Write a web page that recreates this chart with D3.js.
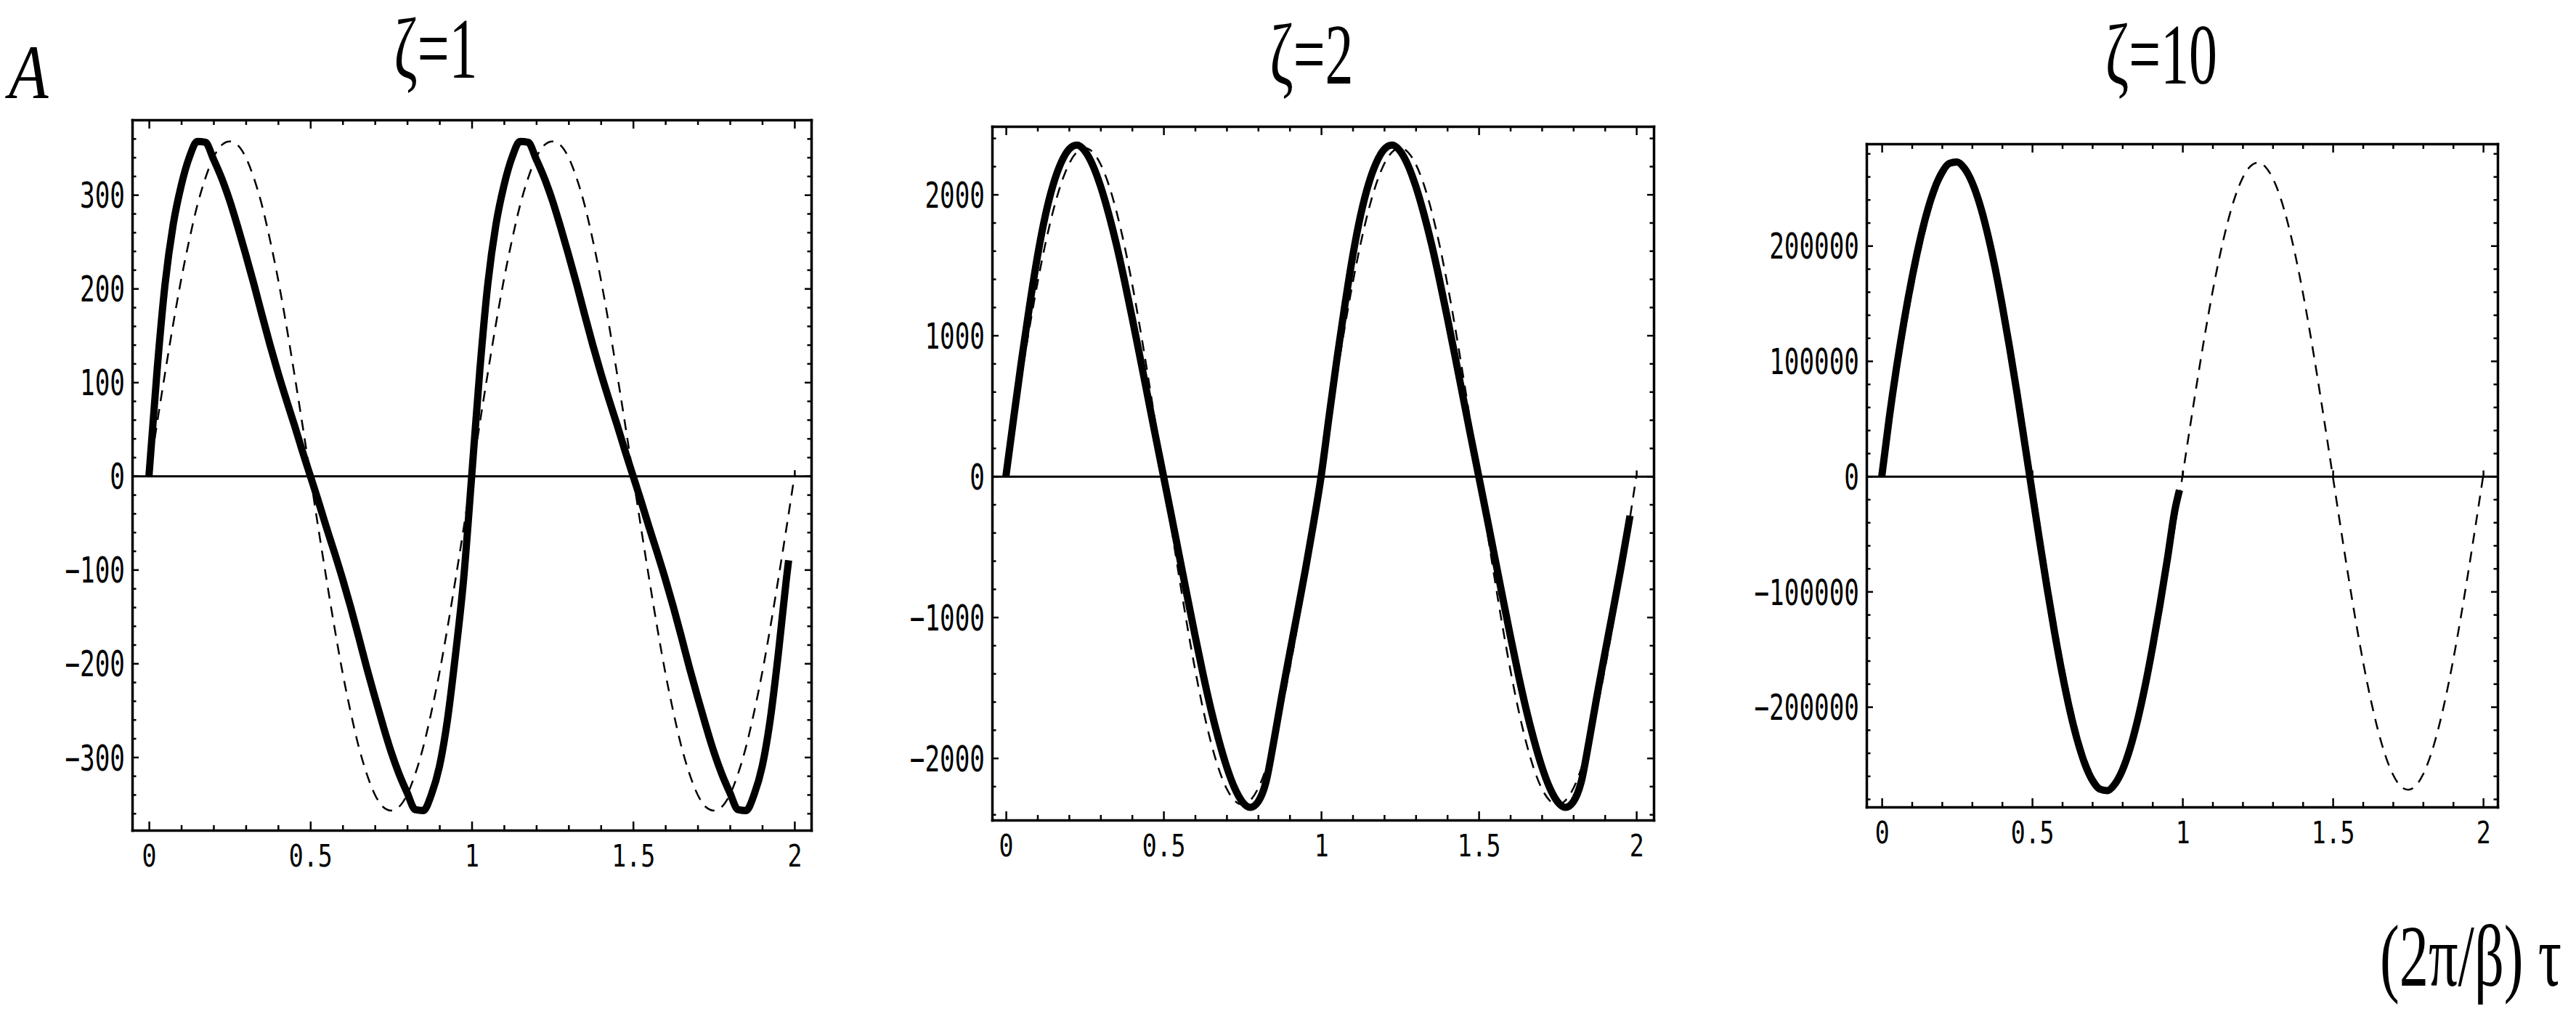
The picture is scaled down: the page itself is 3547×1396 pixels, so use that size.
<!DOCTYPE html>
<html>
<head>
<meta charset="utf-8">
<script src="https://d3js.org/d3.v7.min.js"></script>
<style>
  body { margin: 0; background: #fff; }
  svg { display: block; background: #fff; }
</style>
</head>
<body>
<script>
'use strict';

(function () {

  // sample points along (2π/β) τ
  const tau = [0, 0.025, 0.05, 0.075, 0.1, 0.125, 0.15, 0.175, 0.2, 0.225,
    0.25, 0.275, 0.3, 0.325, 0.35, 0.375, 0.4, 0.425, 0.45, 0.475,
    0.5, 0.525, 0.55, 0.575, 0.6, 0.625, 0.65, 0.675, 0.7, 0.725,
    0.75, 0.775, 0.8, 0.825, 0.85, 0.875, 0.9, 0.925, 0.95, 0.975,
    1, 1.025, 1.05, 1.075, 1.1, 1.125, 1.15, 1.175, 1.2, 1.225,
    1.25, 1.275, 1.3, 1.325, 1.35, 1.375, 1.4, 1.425, 1.45, 1.475,
    1.5, 1.525, 1.55, 1.575, 1.6, 1.625, 1.65, 1.675, 1.7, 1.725,
    1.75, 1.775, 1.8, 1.825, 1.85, 1.875, 1.9, 1.925, 1.95, 1.975, 2];

  // zeta = 1 : thick curve and dashed curve
  const solid1 = [0, 112, 205, 268, 310, 340, 357, 356, 338, 318,
    294, 266, 236, 205, 172, 140, 110, 82, 55, 27,
    0, -27, -55, -82, -110, -140, -172, -205, -236, -266,
    -294, -318, -338, -356, -357, -340, -310, -260, -190, -110,
    0, 112, 205, 268, 310, 340, 357, 356, 338, 318,
    294, 266, 236, 205, 172, 140, 110, 82, 55, 27,
    0, -27, -55, -82, -110, -140, -172, -205, -236, -266,
    -294, -318, -338, -356, -357, -340, -310, -260, -190, -110];
  const dashed1 = [0, 56, 110, 162, 210, 252, 289, 318, 340, 353,
    357, 353, 340, 318, 289, 252, 210, 162, 110, 56,
    0, -56, -110, -162, -210, -252, -289, -318, -340, -353,
    -357, -353, -340, -318, -289, -252, -210, -162, -110, -56,
    0, 56, 110, 162, 210, 252, 289, 318, 340, 353,
    357, 353, 340, 318, 289, 252, 210, 162, 110, 56,
    0, -56, -110, -162, -210, -252, -289, -318, -340, -353,
    -357, -353, -340, -318, -289, -252, -210, -162, -110, -56, 0];

  // zeta = 2
  const solid2 = [0, 420, 830, 1210, 1560, 1850, 2070, 2225, 2320, 2350,
    2310, 2210, 2060, 1870, 1650, 1400, 1130, 850, 565, 280,
    0, -280, -565, -850, -1130, -1400, -1650, -1870, -2060, -2210,
    -2310, -2350, -2310, -2170, -1880, -1560, -1260, -965, -665, -345,
    0, 420, 830, 1210, 1560, 1850, 2070, 2225, 2320, 2350,
    2310, 2210, 2060, 1870, 1650, 1400, 1130, 850, 565, 280,
    0, -280, -565, -850, -1130, -1400, -1650, -1870, -2060, -2210,
    -2310, -2350, -2310, -2170, -1880, -1560, -1260, -965, -665, -345];
  const dashed2 = [0, 364, 720, 1058, 1370, 1648, 1885, 2076, 2216, 2301,
    2330, 2301, 2216, 2076, 1885, 1648, 1370, 1058, 720, 364,
    0, -364, -720, -1058, -1370, -1648, -1885, -2076, -2216, -2301,
    -2330, -2301, -2216, -2076, -1885, -1648, -1370, -1058, -720, -364,
    0, 364, 720, 1058, 1370, 1648, 1885, 2076, 2216, 2301,
    2330, 2301, 2216, 2076, 1885, 1648, 1370, 1058, 720, 364,
    0, -364, -720, -1058, -1370, -1648, -1885, -2076, -2216, -2301,
    -2330, -2301, -2216, -2076, -1885, -1648, -1370, -1058, -720, -364, 0];

  // zeta = 10 (thick curve only covers the first period)
  const solid3 = [0, 51000, 96000, 136000, 171300, 202500, 228600, 249200, 263500, 271400,
    272700, 267100, 255100, 236700, 212400, 183000, 149000, 111800, 71600, 29100,
    -13700, -56200, -97300, -136000, -171300, -202500, -228600, -249200, -263500, -271400,
    -272700, -267100, -255100, -236700, -212400, -183000, -149000, -111800, -71600, -29100];
  const dashed3 = [0, 42500, 84000, 123500, 159900, 192300, 220000, 242400, 258700, 268700,
    272000, 268700, 258700, 242400, 220000, 192300, 159900, 123500, 84000, 42500,
    0, -42500, -84000, -123500, -159900, -192300, -220000, -242400, -258700, -268700,
    -272000, -268700, -258700, -242400, -220000, -192300, -159900, -123500, -84000, -42500,
    0, 42500, 84000, 123500, 159900, 192300, 220000, 242400, 258700, 268700,
    272000, 268700, 258700, 242400, 220000, 192300, 159900, 123500, 84000, 42500,
    0, -42500, -84000, -123500, -159900, -192300, -220000, -242400, -258700, -268700,
    -272000, -268700, -258700, -242400, -220000, -192300, -159900, -123500, -84000, -42500, 0];

  // last sampled point of each thick curve [tau, value]
  const solidEnds = [[1.982, -90], [1.98, -280], [0.99, -12000]];

  // titles and tick labels
  const titles = ["ζ=1", "ζ=2", "ζ=10"];
  const xTicks = [0, 0.5, 1, 1.5, 2];
  const yTicks1 = [-300, -200, -100, 0, 100, 200, 300];
  const yTicks2 = [-2000, -1000, 0, 1000, 2000];
  const yTicks3 = [-200000, -100000, 0, 100000, 200000];
  const yMinorSteps = [20, 200, 20000];

  let svgContainer = "";

  window.onload = function () {
    svgContainer = d3.select('body')
      .append('svg')
      .attr('width', 3547)
      .attr('height', 1396);

    // frame boxes and ranges of the three panels
    let panels = [
      { left: 182, right: 1117, top: 165, bottom: 1143,
        xDom: [-0.052, 2.052], yDom: [-378, 380],
        solid: solid1, dashed: dashed1, yTicks: yTicks1, titleX: 600, titleY: 107 },
      { left: 1366, right: 2277, top: 174, bottom: 1129,
        xDom: [-0.044, 2.055], yDom: [-2440, 2483],
        solid: solid2, dashed: dashed2, yTicks: yTicks2, titleX: 1806, titleY: 115 },
      { left: 2570, right: 3439, top: 198, bottom: 1111,
        xDom: [-0.051, 2.048], yDom: [-286900, 288400],
        solid: solid3, dashed: dashed3, yTicks: yTicks3, titleX: 2976, titleY: 115 }
    ];

    panels.forEach((p, i) => drawPanel(p, i));
    makeLabels();
  };

  // squash text horizontally like the original bitmap
  function squash(sel, dx, dy, sx) {
    sel.attr('x', null).attr('y', null)
      .attr('transform', 'translate(' + dx + ',' + dy + ') scale(' + sx + ',1)');
  }

  function drawPanel(p, i) {
    let g = svgContainer.append('g');

    let xScale = d3.scaleLinear().domain(p.xDom).range([p.left, p.right]);
    let yScale = d3.scaleLinear().domain(p.yDom).range([p.bottom, p.top]);

    // minor ticks
    let xMinor = d3.range(0, 21).filter((k) => k % 5 !== 0).map((k) => k / 10);
    let step = yMinorSteps[i];
    let yMinor = d3.range(Math.ceil(p.yDom[0] / step), Math.floor(p.yDom[1] / step) + 1)
      .filter((k) => k % 5 !== 0)
      .map((k) => k * step);

    let axes = [
      { axis: d3.axisBottom(xScale), pos: 'translate(0,' + p.bottom + ')', major: xTicks, minor: xMinor, len: [12, 7], labels: true },
      { axis: d3.axisTop(xScale), pos: 'translate(0,' + p.top + ')', major: xTicks, minor: xMinor, len: [12, 7], labels: false },
      { axis: d3.axisLeft(yScale), pos: 'translate(' + p.left + ',0)', major: p.yTicks, minor: yMinor, len: [9, 5.5], labels: true },
      { axis: d3.axisRight(yScale), pos: 'translate(' + p.right + ',0)', major: p.yTicks, minor: yMinor, len: [9, 5.5], labels: false }
    ];

    axes.forEach((a, k) => {
      // minor ticks first, no domain
      let gm = g.append('g')
        .attr('transform', a.pos)
        .call(a.axis.tickValues(a.minor).tickSizeInner(-a.len[1]).tickSizeOuter(0).tickFormat(''));
      gm.select('.domain').remove();
      gm.selectAll('line').attr('stroke-width', 2.5);

      // major ticks, labels and frame line
      let ga = g.append('g')
        .attr('transform', a.pos)
        .call(a.axis.tickValues(a.major).tickSizeInner(-a.len[0]).tickSizeOuter(0)
          .tickFormat(a.labels ? d3.format('') : ''));
      ga.select('.domain').attr('stroke-width', 3.5).attr('stroke-linecap', 'square');
      ga.selectAll('line').attr('stroke-width', 2.5);
      ga.selectAll('text')
        .attr('fill', '#000')
        .style('font-family', '"DejaVu Sans Mono", monospace');

      if (a.labels && k === 0) {
        ga.selectAll('text').style('font-size', '42px').attr('dy', null);
        squash(ga.selectAll('text'), 0, 50, 0.79);
      }
      if (a.labels && k === 2) {
        ga.selectAll('text').style('font-size', '49px').attr('dy', '0.36em');
        squash(ga.selectAll('text'), -10, 0, 0.70);
      }
    });

    // zero axis with its own small ticks
    let gz = g.append('g')
      .attr('transform', 'translate(0,' + yScale(0) + ')')
      .call(d3.axisBottom(xScale).tickValues([0.5, 1, 1.5, 2]).tickSizeInner(-8).tickSizeOuter(0).tickFormat(''));
    gz.select('.domain').attr('stroke-width', 3);
    gz.selectAll('line').attr('stroke-width', 2.5);

    let line = d3.line()
      .x((d) => xScale(d[0]))
      .y((d) => yScale(d[1]))
      .curve(d3.curveMonotoneX);

    // dashed curve under the thick one
    let dashedPts = p.dashed.map((v, j) => [tau[j], v]);
    g.append('path')
      .datum(dashedPts)
      .attr('d', line)
      .attr('fill', 'none')
      .attr('stroke', '#000')
      .attr('stroke-width', 2.5)
      .attr('stroke-dasharray', '15,11');

    let solidPts = p.solid.map((v, j) => [tau[j], v]);
    solidPts.push(solidEnds[i]);
    g.append('path')
      .datum(solidPts)
      .attr('d', line)
      .attr('fill', 'none')
      .attr('stroke', '#000')
      .attr('stroke-width', 10)
      .attr('stroke-linejoin', 'round');

    // panel title
    svgContainer.append('text')
      .attr('text-anchor', 'middle')
      .attr('transform', 'translate(' + p.titleX + ',' + p.titleY + ') scale(0.66,1)')
      .style('font-family', '"Liberation Serif", serif')
      .style('font-size', '118px')
      .text(titles[i]);
  }

  function makeLabels() {
    // vertical axis symbol
    svgContainer.append('text')
      .attr('transform', 'translate(12,135) scale(0.85,1)')
      .style('font-family', '"Liberation Serif", serif')
      .style('font-style', 'italic')
      .style('font-size', '105px')
      .text('A');

    // horizontal axis label
    svgContainer.append('text')
      .attr('transform', 'translate(3277,1357) scale(0.67,1)')
      .style('font-family', '"Liberation Serif", serif')
      .style('font-size', '120px')
      .text('(2π/β) τ');
  }

})();
</script>
</body>
</html>
